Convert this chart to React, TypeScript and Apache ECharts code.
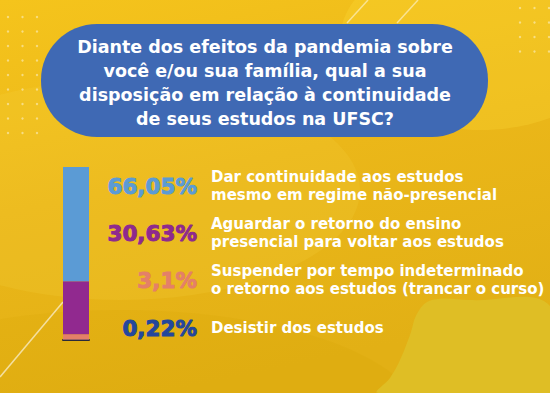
import React, { useEffect, useRef } from "react";
import * as echarts from "echarts";

const categories = [
  "Desistir dos estudos",
  "Suspender por tempo indeterminado\no retorno aos estudos (trancar o curso)",
  "Aguardar o retorno do ensino\npresencial para voltar aos estudos",
  "Dar continuidade aos estudos\nmesmo em regime não-presencial",
];
const values = [0.22, 3.1, 30.63, 66.05];
const valueLabels = ["0,22%", "3,1%", "30,63%", "66,05%"];
const colors = ["#2B4C9E", "#E48068", "#91298F", "#5B9BD5"];
const textColors = ["#24479C", "#E48068", "#8E2A8E", "#5B9BD5"];
const labelY = [328, 280, 233, 186];
const title =
  "Diante dos efeitos da pandemia sobre\nvocê e/ou sua família, qual a sua\ndisposição em relação à continuidade\nde seus estudos na UFSC?";

const FONT = "'DejaVu Sans', 'Open Sans', sans-serif";

export default function App() {
  const ref = useRef<HTMLDivElement>(null);
  useEffect(() => {
    if (!ref.current) return;
    const chart = echarts.init(ref.current, null, { renderer: "svg" });

    const dots: any[] = [];
    for (let r = 0; r < 9; r++) {
      for (let c = 0; c < 3; c++) {
        dots.push({ type: "circle", shape: { cx: 8 + c * 14.5, cy: 17 + r * 14.5, r: 1.2 }, style: { fill: "rgba(255,255,255,0.45)" }, silent: true });
      }
    }
    for (let r = 0; r < 4; r++) {
      for (let c = 0; c < 3; c++) {
        dots.push({ type: "circle", shape: { cx: 520 + c * 14.5, cy: 8 + r * 14.5, r: 1.2 }, style: { fill: "rgba(255,255,255,0.45)" }, silent: true });
      }
    }

    const pctTexts = values.map((_, i) => ({
      type: "text",
      x: 197,
      y: labelY[i],
      style: {
        text: valueLabels[i],
        fill: textColors[i],
        stroke: textColors[i],
        lineWidth: 1,
        font: `bold 21.5px ${FONT}`,
        align: "right",
        verticalAlign: "middle",
      },
    }));
    const catTexts = categories.map((c, i) => ({
      type: "text",
      x: 211,
      y: labelY[i],
      style: {
        text: c,
        fill: "#ffffff",
        font: `bold 15px ${FONT}`,
        lineHeight: 17.5,
        align: "left",
        verticalAlign: "middle",
      },
    }));

    chart.setOption({
      animation: false,
      grid: { left: 63, width: 26, top: 167, bottom: 53 },
      xAxis: {
        type: "category",
        data: ["total"],
        axisLabel: { show: false },
        axisTick: { show: false },
        axisLine: { show: true, lineStyle: { color: "#2a2a3a", width: 2 } },
      },
      yAxis: { type: "value", min: 0, max: 100, show: false, splitLine: { show: false } },
      series: values.map((v, i) => ({
        type: "bar",
        name: categories[i],
        stack: "all",
        barWidth: 26,
        data: [v],
        itemStyle: { color: colors[i] },
        z: 3,
      })),
      graphic: [
        {
          type: "rect",
          z: -10,
          shape: { x: 0, y: 0, width: 550, height: 393 },
          style: {
            fill: new echarts.graphic.LinearGradient(0, 0, 0.3, 1, [
              { offset: 0, color: "#F5C41C" },
              { offset: 0.5, color: "#EBB719" },
              { offset: 1, color: "#E2B015" },
            ]),
          },
          silent: true,
        },
        {
          type: "ellipse",
          z: -9,
          shape: { cx: 120, cy: 190, rx: 240, ry: 110 },
          style: { fill: "rgba(255,230,90,0.12)" },
          silent: true,
        },
        {
          type: "ellipse",
          z: -9,
          shape: { cx: 120, cy: 420, rx: 300, ry: 110 },
          style: { fill: "rgba(210,160,0,0.16)" },
          silent: true,
        },
        {
          type: "polygon",
          z: -8,
          shape: {
            points: [
              [550, 306], [470, 300], [432, 300], [418, 312], [410, 335], [400, 360], [390, 378], [378, 393], [550, 393],
            ],
            smooth: 0.4,
          },
          style: { fill: "#DFBE25" },
          silent: true,
        },
        {
          type: "ellipse",
          z: -9,
          shape: { cx: 480, cy: 40, rx: 140, ry: 90 },
          style: { fill: "rgba(255,225,60,0.25)" },
          silent: true,
        },
        { type: "line", z: -7, shape: { x1: 347, y1: 23, x2: 368, y2: 0 }, style: { stroke: "rgba(255,255,255,0.5)", lineWidth: 1.5 }, silent: true },
        { type: "line", z: -7, shape: { x1: 397, y1: 23, x2: 418, y2: 0 }, style: { stroke: "rgba(255,255,255,0.5)", lineWidth: 1.5 }, silent: true },
        { type: "line", z: -7, shape: { x1: 0, y1: 377, x2: 63, y2: 302 }, style: { stroke: "rgba(255,255,255,0.6)", lineWidth: 1.5 }, silent: true },
        ...dots,
        {
          type: "rect",
          shape: { x: 41, y: 24, width: 447, height: 113, r: 56 },
          style: { fill: "#3F69B4" },
          silent: true,
        },
        {
          type: "text",
          x: 265,
          y: 83,
          style: {
            text: title,
            fill: "#ffffff",
            font: `bold 17.5px ${FONT}`,
            lineHeight: 24,
            align: "center",
            verticalAlign: "middle",
          },
        },
        ...pctTexts,
        ...catTexts,
      ],
    });
    return () => chart.dispose();
  }, []);
  return <div ref={ref} style={{ width: 550, height: 393, position: "absolute", left: 0, top: 0 }} />;
}
